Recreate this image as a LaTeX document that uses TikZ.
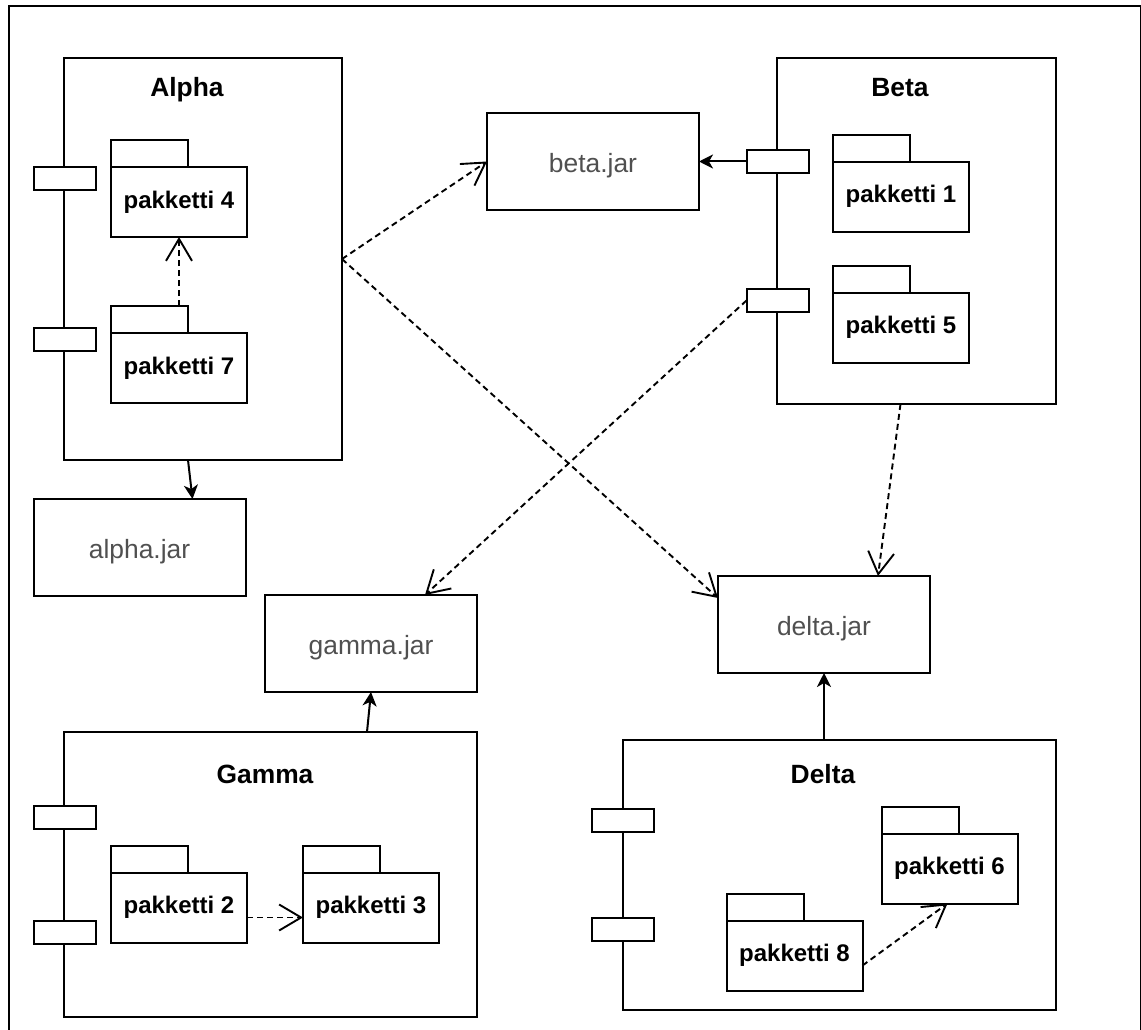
\documentclass[tikz,border=0pt]{standalone}
\usepackage{fontspec}
\setmainfont{Liberation Sans}
\usetikzlibrary{arrows.meta}
\definecolor{jartext}{RGB}{80,80,80}
\begin{document}
\begin{tikzpicture}[x=1pt,y=-1pt,
  every node/.style={inner sep=0pt, outer sep=0pt},
  box/.style={draw, line width=2pt, rectangle},
  port/.style={box, fill=white, minimum width=62pt, minimum height=23pt},
  pkgbody/.style={box, fill=white, minimum width=136pt, minimum height=70pt,
    font=\fontsize{24}{28}\selectfont\bfseries, text height=12pt, text depth=0pt},
  pkgtab/.style={box, fill=white, minimum width=77pt, minimum height=27pt, anchor=south west},
  jar/.style={box, minimum width=212pt, minimum height=97pt, text=jartext,
    font=\fontsize{26.4}{30}\selectfont, text height=21pt, text depth=0pt},
  title/.style={anchor=base, font=\fontsize{26.4}{30}\selectfont\bfseries},
  dep/.style={line width=1.9pt, dash pattern=on 6pt off 4pt,
    -{Straight Barb[length=22pt,width=26pt]}},
  use/.style={line width=2pt, -{Stealth[length=14pt,width=14pt,inset=4pt]}}
]
\useasboundingbox (0,0) rectangle (1141,1030);
\fill[white] (0,0) rectangle (1141,1030);
\clip (0,0) rectangle (1141,1030);
\draw[line width=2pt] (8.5,6) rectangle (1140.5,1050);

% components
\node[box, minimum width=278pt, minimum height=402pt] (alpha) at (203,259) {};
\node[box, minimum width=279pt, minimum height=346pt] (beta) at (916.5,231) {};
\node[box, minimum width=413pt, minimum height=285pt] (gamma) at (270.5,874.5) {};
\node[box, minimum width=433pt, minimum height=270pt] (delta) at (839.5,875) {};

\node[title] (talpha) at (187,97) {Alpha};
\node[title] (tbeta) at (900,97) {Beta};
\node[title] (tgamma) at (265,783) {Gamma};
\node[title] (tdelta) at (823,783) {Delta};

% ports
\node[port] (ap1) at (64.5,179) {};
\node[port] (ap2) at (64.5,339.5) {};
\node[port] (bp1) at (777.5,161.5) {};
\node[port] (bp2) at (777.5,300.5) {};
\node[port] (gp1) at (64.5,817.5) {};
\node[port] (gp2) at (64.5,932) {};
\node[port] (dp1) at (623,820.5) {};
\node[port] (dp2) at (623,929) {};

% packages
\node[pkgbody] (pk4) at (179,202) {pakketti 4};
\node[pkgtab] (pk4t) at (pk4.north west) {};
\node[pkgbody] (pk7) at (179,368) {pakketti 7};
\node[pkgtab] (pk7t) at (pk7.north west) {};
\node[pkgbody] (pk1) at (901,197) {pakketti 1};
\node[pkgtab] (pk1t) at (pk1.north west) {};
\node[pkgbody] (pk5) at (901,327.5) {pakketti 5};
\node[pkgtab] (pk5t) at (pk5.north west) {};
\node[pkgbody] (pk2) at (179,907.5) {pakketti 2};
\node[pkgtab] (pk2t) at (pk2.north west) {};
\node[pkgbody] (pk3) at (371,907.5) {pakketti 3};
\node[pkgtab] (pk3t) at (pk3.north west) {};
\node[pkgbody] (pk6) at (949.5,868.5) {pakketti 6};
\node[pkgtab] (pk6t) at (pk6.north west) {};
\node[pkgbody] (pk8) at (794.5,955.5) {pakketti 8};
\node[pkgtab] (pk8t) at (pk8.north west) {};

% jars
\node[jar] (betajar) at (593,161.5) {beta.jar};
\node[jar] (alphajar) at (139.5,547.5) {alpha.jar};
\node[jar] (gammajar) at (371,643.5) {gamma.jar};
\node[jar] (deltajar) at (824,624.5) {delta.jar};

% connectors
\draw[dep] (pk7.north |- pk7t.north) -- (pk4.south);
\draw[dep] ([yshift=-10pt]pk2.east) -- ([yshift=-10pt]pk3.west);
\draw[dep] ([yshift=-10pt]pk8.east) -- ([xshift=-2pt]pk6.south);
\draw[use] ([xshift=-15pt]alpha.south) -- ([xshift=53pt]alphajar.north);
\draw[dep] (alpha.east) -- (betajar.west);
\draw[dep] (alpha.east) -- ([yshift=-22pt]deltajar.north west);
\draw[use] (bp1.west) -- (betajar.east);
\draw[dep] (bp2.west) -- ([xshift=54pt]gammajar.north);
\draw[dep] ([xshift=-16pt]beta.south) -- ([xshift=54pt]deltajar.north);
\draw[use] ([xshift=96.5pt]gamma.north) -- (gammajar.south);
\draw[use] ([xshift=-15.5pt]delta.north) -- (deltajar.south);
\end{tikzpicture}
\end{document}
